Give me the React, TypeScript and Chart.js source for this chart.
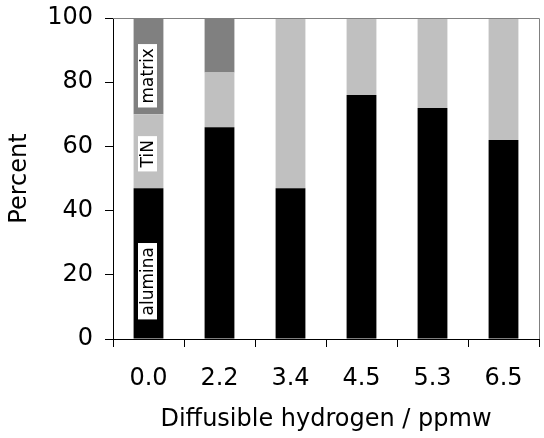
import React, { useEffect, useRef } from "react";
import { Chart, registerables } from "chart.js";

Chart.register(...registerables);

const categories = ["0.0", "2.2", "3.4", "4.5", "5.3", "6.5"];
const alumina = [47, 66, 47, 76, 72, 62];
const tin = [23, 17, 53, 24, 28, 38];
const matrix = [30, 17, 0, 0, 0, 0];
const yTicks = [0, 20, 40, 60, 80, 100];
const inBarLabels = ["alumina", "TiN", "matrix"];
const inBarLabelValues = [18, 57.7, 82];

const FONT = "'DejaVu Sans', Verdana, sans-serif";

const labelPlugin = {
  id: "inBarLabels",
  afterDatasetsDraw(chart: any) {
    const ctx = chart.ctx;
    const meta = chart.getDatasetMeta(0);
    const bar = meta.data[0];
    if (!bar) return;
    const x = bar.x;
    const yScale = chart.scales.y;
    ctx.save();
    ctx.font = `17px ${FONT}`;
    inBarLabels.forEach((txt, i) => {
      const y = yScale.getPixelForValue(inBarLabelValues[i]);
      const w = ctx.measureText(txt).width;
      ctx.save();
      ctx.translate(x - 1, y);
      ctx.rotate(-Math.PI / 2);
      const bw = w + 8;
      const bh = 19;
      ctx.fillStyle = "#ffffff";
      ctx.fillRect(-bw / 2, -bh / 2, bw, bh);
      ctx.fillStyle = "#000000";
      ctx.textAlign = "center";
      ctx.textBaseline = "middle";
      ctx.fillText(txt, 0, 1);
      ctx.restore();
    });
    ctx.restore();
  },
  afterDraw(chart: any) {
    const { ctx, chartArea } = chart;
    ctx.save();
    ctx.strokeStyle = "#808080";
    ctx.lineWidth = 1;
    ctx.beginPath();
    ctx.moveTo(chartArea.left, chartArea.top + 0.5);
    ctx.lineTo(chartArea.right + 0.5, chartArea.top + 0.5);
    ctx.lineTo(chartArea.right + 0.5, chartArea.bottom);
    ctx.stroke();
    ctx.restore();
  },
};

export default function App() {
  const ref = useRef<HTMLCanvasElement>(null);
  useEffect(() => {
    if (!ref.current) return;
    const chart = new Chart(ref.current, {
      type: "bar",
      data: {
        labels: categories,
        datasets: [
          { label: "alumina", data: alumina, backgroundColor: "#000000" },
          { label: "TiN", data: tin, backgroundColor: "#c0c0c0" },
          { label: "matrix", data: matrix, backgroundColor: "#808080" },
        ],
      },
      options: {
        animation: false,
        responsive: true,
        maintainAspectRatio: false,
        layout: { padding: { top: 18, right: 5, left: 0, bottom: 0 } },
        plugins: { legend: { display: false }, tooltip: { enabled: false } },
        datasets: { bar: { barPercentage: 0.42, categoryPercentage: 1 } },
        scales: {
          x: {
            stacked: true,
            grid: {
              display: true,
              drawOnChartArea: false,
              drawTicks: true,
              tickLength: 8,
              color: "#000000",
              offset: true,
            },
            border: { display: true, color: "#000000" },
            ticks: {
              color: "#000000",
              font: { family: FONT, size: 24 },
              padding: 17,
              maxRotation: 0,
            },
            title: {
              display: true,
              text: "Diffusible hydrogen / ppmw",
              color: "#000000",
              font: { family: FONT, size: 24 },
              padding: { top: 0, bottom: 4 },
            },
            afterFit: (s: any) => {
              s.height = 99;
              s.paddingLeft = 0;
              s.paddingRight = 0;
            },
          },
          y: {
            stacked: true,
            min: 0,
            max: 100,
            afterBuildTicks: (s: any) => {
              s.ticks = yTicks.map((v) => ({ value: v }));
            },
            grid: {
              display: true,
              drawOnChartArea: false,
              drawTicks: true,
              tickLength: 8,
              color: "#000000",
            },
            border: { display: true, color: "#000000" },
            ticks: {
              color: "#000000",
              font: { family: FONT, size: 24 },
              padding: 12,
            },
            title: {
              display: true,
              text: "Percent",
              color: "#000000",
              font: { family: FONT, size: 24 },
              padding: { top: 5, bottom: 0 },
            },
            afterFit: (s: any) => {
              s.width = 113;
              s.paddingTop = 0;
              s.paddingBottom = 0;
            },
          },
        },
      },
      plugins: [labelPlugin],
    });
    return () => chart.destroy();
  }, []);
  return (
    <div style={{ position: "fixed", left: 0, top: 0, width: 544, height: 438, background: "#fff" }}>
      <canvas ref={ref} />
    </div>
  );
}
